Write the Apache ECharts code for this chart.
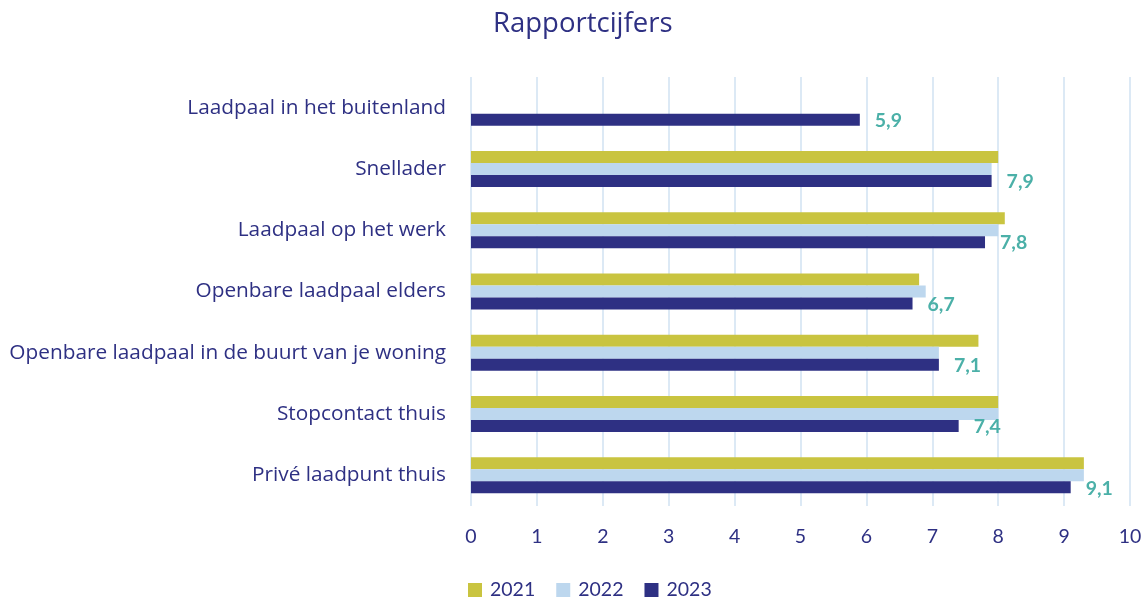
<!DOCTYPE html>
<html><head><meta charset="utf-8">
<script src="https://cdn.jsdelivr.net/npm/echarts@6/dist/echarts.min.js"></script>
<style>html,body{margin:0;padding:0;background:#fff}#c{width:1147px;height:601px}</style>
</head><body><div id="c"></div>
<script>
const categories = ["Laadpaal in het buitenland","Snellader","Laadpaal op het werk","Openbare laadpaal elders","Openbare laadpaal in de buurt van je woning","Stopcontact thuis","Privé laadpunt thuis"];
const seriesNames = ["2021","2022","2023"];
const values2021 = [null, 8.0, 8.1, 6.8, 7.7, 8.0, 9.3];
const values2022 = [null, 7.9, 8.0, 6.9, 7.1, 8.0, 9.3];
const values2023 = [5.9, 7.9, 7.8, 6.7, 7.1, 7.4, 9.1];
const xTicks = [0,1,2,3,4,5,6,7,8,9,10];

const textColor = '#2e3083';
const font = 'Lato, "Open Sans", sans-serif';
const font2 = '"Open Sans", sans-serif';
const chart = echarts.init(document.getElementById('c'));
const colors = ['#c9c440','#bdd7ee','#2e3083'];
const all = [values2021, values2022, values2023];
chart.setOption({
  animation: false,
  title: {text: 'Rapportcijfers', left: 488, top: 5, textStyle: {color: textColor, fontSize: 27.5, fontWeight: 'normal', fontFamily: font2}},
  legend: {bottom: -4, left: 463, itemWidth: 14, itemHeight: 14, itemGap: 21, icon: 'rect',
    textStyle: {color: textColor, fontSize: 19.5, fontFamily: font, padding: [0,0,0,3]}, data: seriesNames},
  grid: {left: 471, right: 17, top: 77, bottom: 95, containLabel: false},
  xAxis: {type: 'value', min: xTicks[0], max: xTicks[xTicks.length-1], interval: 1,
    axisLine: {show: false}, axisTick: {show: false},
    splitLine: {show: true, lineStyle: {color: '#dce9f5', width: 2}},
    axisLabel: {color: textColor, fontSize: 19.5, fontFamily: font, margin: 21}},
  yAxis: {type: 'category', data: categories, inverse: true,
    axisLine: {show: false}, axisTick: {show: false},
    axisLabel: {color: textColor, fontSize: 20.8, fontFamily: font2, margin: 25}},
  series: seriesNames.map((n, i) => ({
    name: n, type: 'bar', data: all[i], barWidth: 12, barGap: '0%', barCategoryGap: '41%',
    itemStyle: {color: colors[i]},
    label: i === 2 ? {show: true, position: 'right', distance: 15, color: '#4bb0a8', fontWeight: 'bold', fontSize: 19.5, fontFamily: font, offset: [0, 1],
      formatter: p => p.value.toFixed(1).replace('.', ',')} : {show: false}
  }))
});
</script></body></html>
